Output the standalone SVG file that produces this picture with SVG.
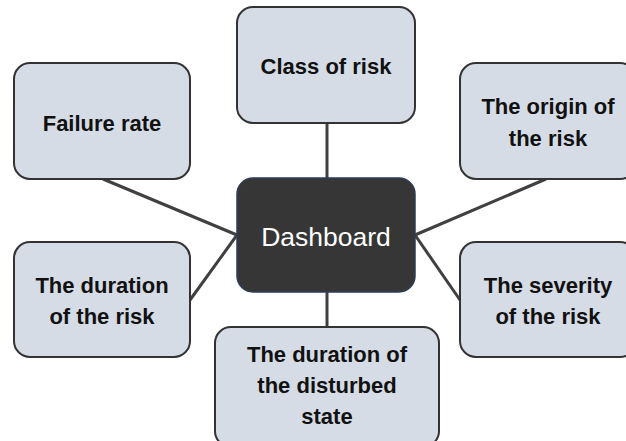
<svg xmlns="http://www.w3.org/2000/svg" width="626" height="441" viewBox="0 0 626 441">
<style>
.box{fill:#d6dce5;stroke:#333333;stroke-width:2}
.hub{fill:#363636;stroke:#2e3d55;stroke-width:1.5}
.lbl{font-family:"Liberation Sans",Arial,sans-serif;font-weight:bold;font-size:22px;fill:#111111;text-anchor:middle}
.hubt{font-family:"Liberation Sans",Arial,sans-serif;font-size:26.5px;fill:#ffffff;text-anchor:middle}
.con{stroke:#404040;stroke-width:3;fill:none}
</style>
<rect width="626" height="441" fill="#ffffff"/>
<g id="connectors">
<line class="con" x1="327" y1="123" x2="327" y2="178"/>
<line class="con" x1="103" y1="179" x2="237" y2="235"/>
<line class="con" x1="190" y1="300" x2="237" y2="235"/>
<line class="con" x1="546" y1="179" x2="415" y2="235"/>
<line class="con" x1="460" y1="300" x2="415" y2="235"/>
<line class="con" x1="327" y1="292" x2="327" y2="327"/>
</g>
<g id="class-of-risk">
<rect class="box" x="237" y="7" width="178" height="116" rx="16"/>
<text class="lbl" x="326" y="74">Class of risk</text>
</g>
<g id="failure-rate">
<rect class="box" x="14" y="63" width="176" height="116" rx="16"/>
<text class="lbl" x="102" y="131">Failure rate</text>
</g>
<g id="origin">
<rect class="box" x="460" y="63" width="176" height="116" rx="16"/>
<text class="lbl" x="548" y="114">The origin of</text>
<text class="lbl" x="548" y="146">the risk</text>
</g>
<g id="dashboard">
<rect class="hub" x="237" y="178" width="178" height="114" rx="16"/>
<text class="hubt" x="326" y="246">Dashboard</text>
</g>
<g id="duration-risk">
<rect class="box" x="14" y="242" width="176" height="115" rx="16"/>
<text class="lbl" x="102" y="293">The duration</text>
<text class="lbl" x="102" y="324">of the risk</text>
</g>
<g id="severity">
<rect class="box" x="460" y="242" width="176" height="115" rx="16"/>
<text class="lbl" x="548" y="293">The severity</text>
<text class="lbl" x="548" y="324">of the risk</text>
</g>
<g id="disturbed">
<rect class="box" x="215" y="327" width="224" height="120" rx="16"/>
<text class="lbl" x="327" y="362">The duration of</text>
<text class="lbl" x="327" y="393">the disturbed</text>
<text class="lbl" x="327" y="424">state</text>
</g>
</svg>
